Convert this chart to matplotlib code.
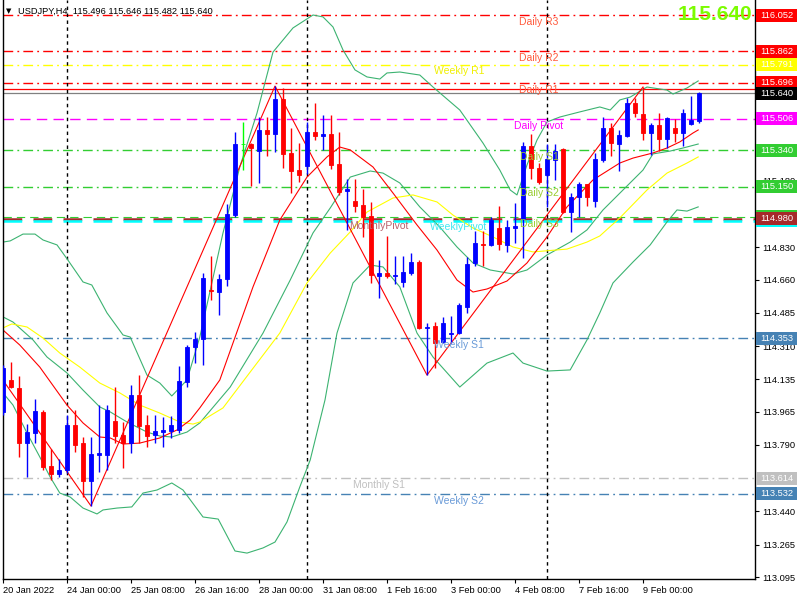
import matplotlib
matplotlib.use('Agg')
import matplotlib.pyplot as plt
import matplotlib.transforms as mtransforms
from matplotlib.patches import Rectangle

plt.rcParams['font.family'] = ['Liberation Sans', 'DejaVu Sans']

# header info
symbol = 'USDJPY,H4'
last_ohlc = [115.496, 115.646, 115.482, 115.640]
ask_price = 115.663

# H4 bars, bar 0 = 24 Jan 00:00
bars = list(range(-8, 80))
opens = [113.964, 114.132, 114.090, 113.800, 113.853, 113.964, 113.679, 113.637,
         113.658, 113.895, 113.800, 113.600, 113.737, 113.737, 113.916, 113.843,
         113.800, 114.053, 113.895, 113.843, 113.858, 113.864, 113.869, 114.121,
         114.306, 114.348, 114.606, 114.595, 114.664, 115.000, 115.374, 115.374,
         115.337, 115.448, 115.427, 115.611, 115.327, 115.237, 115.258, 115.437,
         115.416, 115.427, 115.269, 115.127, 115.074, 115.053, 114.995, 114.679,
         114.695, 114.679, 114.648, 114.695, 114.753, 114.406, 114.416, 114.332,
         114.374, 114.379, 114.516, 114.748, 114.848, 114.843, 114.932, 114.843,
         114.932, 114.979, 115.364, 115.248, 115.211, 115.290, 115.348, 115.016,
         115.095, 115.164, 115.074, 115.290, 115.458, 115.374, 115.416, 115.590,
         115.532, 115.432, 115.474, 115.400, 115.458, 115.432, 115.479, 115.496]
highs = [114.211, 114.227, 114.153, 113.900, 114.032, 113.974, 113.769, 113.716,
         113.948, 113.974, 113.832, 113.832, 114.000, 114.000, 114.095, 113.911,
         114.106, 114.158, 113.948, 113.948, 113.937, 113.943, 114.206, 114.316,
         114.385, 114.695, 114.785, 114.690, 115.058, 115.437, 115.490, 115.379,
         115.516, 115.516, 115.679, 115.669, 115.458, 115.379, 115.490, 115.590,
         115.527, 115.527, 115.437, 115.190, 115.190, 115.137, 115.069, 114.764,
         114.890, 114.785, 114.785, 114.800, 114.764, 114.432, 114.437, 114.464,
         114.469, 114.537, 114.779, 114.916, 114.916, 114.990, 115.048, 114.974,
         115.064, 115.385, 115.427, 115.274, 115.374, 115.374, 115.353, 115.116,
         115.174, 115.164, 115.327, 115.516, 115.485, 115.448, 115.616, 115.616,
         115.674, 115.485, 115.537, 115.516, 115.506, 115.558, 115.627, 115.646]
lows = [113.948, 114.090, 113.727, 113.621, 113.800, 113.658, 113.606, 113.621,
        113.642, 113.753, 113.516, 113.469, 113.648, 113.658, 113.800, 113.669,
        113.748, 113.800, 113.779, 113.800, 113.779, 113.827, 113.853, 114.095,
        114.221, 114.211, 114.553, 114.474, 114.627, 114.990, 115.237, 115.153,
        115.169, 115.311, 115.332, 115.248, 115.116, 115.174, 115.216, 115.395,
        115.343, 115.243, 115.106, 114.922, 115.016, 114.885, 114.643, 114.564,
        114.669, 114.637, 114.622, 114.685, 114.400, 114.158, 114.195, 114.327,
        114.327, 114.374, 114.485, 114.732, 114.732, 114.837, 114.816, 114.806,
        114.853, 114.774, 115.190, 115.164, 115.043, 115.185, 115.011, 114.911,
        114.990, 115.048, 115.043, 115.279, 115.311, 115.232, 115.411, 115.516,
        115.395, 115.316, 115.337, 115.353, 115.385, 115.364, 115.474, 115.482]
closes = [114.195, 114.095, 113.800, 113.858, 113.969, 113.674, 113.637, 113.658,
          113.895, 113.790, 113.600, 113.742, 113.748, 113.974, 113.837, 113.800,
          114.053, 113.890, 113.837, 113.864, 113.869, 113.895, 114.127, 114.306,
          114.348, 114.669, 114.600, 114.664, 115.006, 115.374, 115.374, 115.353,
          115.448, 115.427, 115.611, 115.322, 115.232, 115.211, 115.437, 115.416,
          115.427, 115.264, 115.122, 115.137, 115.048, 114.990, 114.685, 114.695,
          114.679, 114.685, 114.700, 114.753, 114.406, 114.411, 114.327, 114.432,
          114.379, 114.527, 114.742, 114.853, 114.843, 114.974, 114.848, 114.937,
          114.943, 115.364, 115.248, 115.174, 115.295, 115.337, 115.016, 115.095,
          115.164, 115.095, 115.295, 115.458, 115.379, 115.422, 115.590, 115.537,
          115.432, 115.474, 115.400, 115.511, 115.432, 115.537, 115.500, 115.640]

# Bollinger bands
bb_up_x = [-8, -7.1, -5.5, -4, -3, -1.25, 0.1, 2, 3.1, 5, 7, 7.9, 10, 11.6, 13.1, 15,
           16.6, 19.5, 21.6, 23.75, 25.75, 28.25, 30.75, 32, 33.25, 34.5, 36, 37.5,
           39.1, 40, 41.6, 44.1, 45.75, 49.1, 52, 54.1, 55.4, 56.25, 57.5, 58.75, 60,
           61.6, 64.1, 66.6, 67.9, 69.1, 70.4, 72.5, 75, 75.75, 77.5, 78.9]
bb_up = [114.858, 114.864, 114.900, 114.900, 114.869, 114.843, 114.764, 114.648,
         114.632, 114.485, 114.369, 114.358, 114.158, 114.116, 114.048, 114.132,
         114.358, 114.906, 115.253, 115.537, 115.858, 115.985, 116.053, 116.043,
         115.990, 115.869, 115.764, 115.727, 115.716, 115.748, 115.753, 115.737,
         115.674, 115.553, 115.379, 115.237, 115.132, 115.106, 115.264, 115.395,
         115.490, 115.516, 115.543, 115.569, 115.553, 115.606, 115.621, 115.674,
         115.658, 115.637, 115.669, 115.706]
bb_mid_x = [-8, -6.75, -4.25, -2.5, 0, 2, 4.1, 5.4, 7.5, 10, 11.6, 13.1, 15, 16.6,
            20.4, 24.5, 27.9, 30.75, 32.9, 35.4, 37.9, 39.5, 41.6, 44.1, 46.6, 48.75,
            50.75, 52.9, 55.75, 57.5, 60, 62.9, 65, 67, 69.5, 72, 73.25, 75.4, 77, 78.9]
bb_mid = [114.464, 114.437, 114.343, 114.253, 114.169, 114.079, 113.990, 113.964,
          113.911, 113.858, 113.837, 113.832, 113.858, 113.906, 114.095, 114.379,
          114.658, 114.906, 115.037, 115.200, 115.232, 115.221, 115.169, 115.043,
          114.937, 114.832, 114.748, 114.711, 114.690, 114.711, 114.790, 114.858,
          114.922, 115.027, 115.132, 115.237, 115.322, 115.337, 115.353, 115.374]
bb_low_x = [-8, -6.75, -5, -3.4, -2.1, -0.9, 0.4, 2, 3.75, 4.5, 6.25, 8.1, 9.5, 11.25,
            13.1, 14.5, 17, 18.9, 21, 22.5, 24.5, 26, 27.5, 29.1, 30.4, 32.25, 33.75,
            35.75, 37.9, 39.5, 41.6, 43.75, 45.75, 49.1, 52.5, 55.75, 57, 60, 62.9, 65,
            66.6, 68.25, 70.75, 72.9, 75, 76.25, 77.5, 78.9]
bb_low = [114.064, 114.000, 113.853, 113.727, 113.621, 113.537, 113.516, 113.458,
          113.427, 113.448, 113.458, 113.464, 113.537, 113.553, 113.590, 113.553,
          113.411, 113.400, 113.232, 113.221, 113.248, 113.279, 113.385, 113.569,
          113.711, 114.027, 114.379, 114.643, 114.737, 114.727, 114.622, 114.379,
          114.253, 114.095, 114.221, 114.274, 114.221, 114.179, 114.185, 114.343,
          114.485, 114.643, 114.753, 114.843, 114.964, 115.027, 115.021, 115.043]

# moving averages
ma_red_x = [-8, -5.9, -3.4, 0, 2, 4.1, 5.4, 7, 9.1, 11.6, 13.75, 15.4, 16.6, 19.1, 23.25,
            26.6, 30, 32.5, 34.1, 35.4, 38.25, 40.75, 43.75, 46.25, 48.75, 50.75, 52.5,
            55, 57.5, 60, 62.5, 65.75, 69.1, 70.75, 73.25, 75, 76.6, 78.25, 78.9]
ma_red = [114.395, 114.316, 114.200, 114.000, 113.906, 113.832, 113.827, 113.795,
          113.800, 113.827, 113.869, 113.921, 113.985, 114.132, 114.622, 114.974,
          115.200, 115.306, 115.358, 115.343, 115.253, 115.116, 114.948, 114.816,
          114.658, 114.595, 114.611, 114.653, 114.748, 114.885, 115.043, 115.185,
          115.274, 115.300, 115.327, 115.353, 115.385, 115.432, 115.448]
ma_yel_x = [-8, -6.9, -5, -3, -0.9, 1.6, 4.1, 6.6, 9.1, 11.6, 14.1, 15.75, 16.6, 19.5,
            22.9, 26.6, 30, 32.9, 35.4, 37.5, 40.75, 43.25, 46.25, 48.25, 50.75, 53.25,
            55.75, 58.25, 62.5, 65, 66.6, 69.1, 72.5, 75, 77.5, 78.9]
ma_yel = [114.406, 114.427, 114.411, 114.353, 114.274, 114.200, 114.116, 114.064,
          114.000, 113.958, 113.911, 113.900, 113.911, 113.985, 114.174, 114.379,
          114.643, 114.800, 114.911, 115.016, 115.090, 115.106, 115.069, 115.000,
          114.932, 114.885, 114.832, 114.806, 114.821, 114.858, 114.890, 114.985,
          115.132, 115.221, 115.274, 115.306]

# zigzag swing points
zz_x = [-9, 3, 26, 45, 72]
zz_y = [114.191, 113.469, 115.679, 114.158, 115.674]

# pivot levels
lvl_names = ['Daily R3', 'Daily R2', 'Weekly R1', 'Daily R1', 'Daily Pivot',
             'Daily S1', 'Daily S2', 'Daily S3', 'MonthlyPivot', 'WeeklyPivot',
             'Weekly S1', 'Monthly S1', 'Weekly S2']
lvl_values = [116.052, 115.862, 115.791, 115.696, 115.506, 115.340, 115.150,
              114.990, 114.980, 114.970, 114.353, 113.614, 113.532]

week_starts = [0, 30, 60]
xtick_pos = [-8, 0, 8, 16, 24, 32, 40, 48, 56, 64, 72]
xtick_labels = ['20 Jan 2022', '24 Jan 00:00', '25 Jan 08:00', '26 Jan 16:00',
                '28 Jan 00:00', '31 Jan 08:00', '1 Feb 16:00', '3 Feb 00:00',
                '4 Feb 08:00', '7 Feb 16:00', '9 Feb 00:00']
# scale labels that are not fully hidden behind the level boxes
ytick_vals = [113.095, 113.265, 113.440, 113.790, 113.965, 114.135, 114.310,
              114.485, 114.660, 114.830, 115.005, 115.180, 115.530, 115.700]

dashdot = (0, (7, 3, 1.3, 3))
dashed = (0, (7.5, 4.5))
lvl_style = {
    'Daily R3': ('#ff0000', dashdot, 1, '#ff5a3c', 59),
    'Daily R2': ('#ff0000', dashdot, 1, '#ff5a3c', 59),
    'Weekly R1': ('#ffff00', dashdot, 1, '#f0f000', 49),
    'Daily R1': ('#ff0000', dashdot, 1, '#ff5a3c', 59),
    'Daily Pivot': ('#ff00ff', dashed, 1, '#ff00ff', 59),
    'Daily S1': ('#32cd32', dashdot, 1, '#9acd32', 59),
    'Daily S2': ('#32cd32', dashdot, 1, '#9acd32', 59),
    'Daily S3': ('#32cd32', dashed, 0.8, '#9acd32', 59),
    'MonthlyPivot': ('#a52a2a', dashed, 1.8, '#b8606a', 39),
    'WeeklyPivot': ('#00ffff', dashed, 1.8, '#40e8f0', 49),
    'Weekly S1': ('#4682b4', dashdot, 1, '#6a9bd8', 49),
    'Monthly S1': ('#c0c0c0', dashdot, 1, '#c0c0c0', 39),
    'Weekly S2': ('#4682b4', dashdot, 1, '#6a9bd8', 49),
}

fig = plt.figure(figsize=(8, 6), dpi=100)
ax = fig.add_axes([2.5 / 800, 21 / 600, 752 / 800, 579 / 600])
ax.set_xlim(-8.0625, 85.9375)
ax.set_ylim(113.0846, 116.132)

# pivot lines
for name, val in zip(lvl_names, lvl_values):
    col, ls, lw, tcol, tx = lvl_style[name]
    ax.axhline(val, color=col, linestyle=ls, linewidth=lw, zorder=1)
ax.axhline(ask_price, color='#ff0000', linewidth=0.9, zorder=1)
ax.axhline(last_ohlc[3], color='#808080', linewidth=0.9, zorder=1)

for w in week_starts:
    ax.axvline(w, color='black', linestyle=(0, (2.5, 2.5)), linewidth=1, zorder=1)

# indicators
ax.plot(bb_up_x, bb_up, color='#3cb371', lw=0.8, zorder=2)
ax.plot(bb_mid_x, bb_mid, color='#3cb371', lw=0.8, zorder=2)
ax.plot(bb_low_x, bb_low, color='#3cb371', lw=0.8, zorder=2)
ax.plot(ma_yel_x, ma_yel, color='#ffff00', lw=0.8, zorder=2)
ax.plot(ma_red_x, ma_red, color='#ff0000', lw=0.8, zorder=2)
ax.plot(zz_x, zz_y, color='#ff0000', lw=0.8, zorder=2)

# candles
for i, o, h, l, c in zip(bars, opens, highs, lows, closes):
    if c > o:
        col = '#0000ff'
    elif c < o:
        col = '#ff0000'
    else:
        col = '#00ff00'
    ax.vlines(i, l, h, color=col, linewidth=1, zorder=3)
    ax.bar(i, abs(c - o), bottom=min(o, c), width=0.6, color=col,
           edgecolor=col, linewidth=0.6, zorder=4)

# level captions
for name, val in zip(lvl_names, lvl_values):
    col, ls, lw, tcol, tx = lvl_style[name]
    ax.annotate(name, xy=(tx, val), xytext=(0, -4.8), textcoords='offset points',
                ha='center', va='center', fontsize=7.5, color=tcol, zorder=6)

# axes look
for s in ['left', 'right', 'bottom']:
    ax.spines[s].set_color('black')
    ax.spines[s].set_linewidth(1)
ax.spines['top'].set_visible(False)
ax.yaxis.tick_right()
ax.set_yticks(ytick_vals)
ax.set_yticklabels(['%.3f' % v for v in ytick_vals])
ax.tick_params(axis='y', length=3, width=0.8, labelsize=6.7, pad=2.5)
ax.set_xticks(xtick_pos)
ax.set_xticklabels(xtick_labels, ha='left')
ax.tick_params(axis='x', length=3, width=0.8, labelsize=6.7, pad=2)

# price boxes on the right scale (hidden ones drawn without text)
box_vals = [116.052, 115.862, 115.791, ask_price, 115.696, last_ohlc[3], 115.506,
            115.340, 115.150, 114.990, 114.970, 114.980, 114.353, 113.614, 113.532]
box_cols = ['#ff0000', '#ff0000', '#ffff00', '#ff0000', '#ff0000', '#000000', '#ff00ff',
            '#32cd32', '#32cd32', '#32cd32', '#00ffff', '#a52a2a', '#4682b4', '#c0c0c0',
            '#4682b4']
box_text = [True, True, True, False, True, True, True,
            True, True, False, False, True, True, True, True]
trans = mtransforms.blended_transform_factory(fig.transFigure, ax.transData)
box_h = 13 / 190
for k, (v, bc, show) in enumerate(zip(box_vals, box_cols, box_text)):
    ax.add_patch(Rectangle((756 / 800, v - box_h / 2), 41 / 800, box_h, transform=trans,
                           facecolor=bc, edgecolor='none', clip_on=False, zorder=10 + 2 * k))
    if show:
        ax.text(776.5 / 800, v, '%.3f' % v, transform=trans, ha='center', va='center',
                fontsize=6.7, color='white', clip_on=False, zorder=11 + 2 * k)

# header and big price
fig.text(9 / 800, 1 - 11 / 600, '\u25bc', fontsize=5, ha='center', va='center',
         color='black', family=['DejaVu Sans'])
fig.text(18 / 800, 1 - 11 / 600, '%s  %.3f %.3f %.3f %.3f' % (symbol, *last_ohlc),
         fontsize=6.7, ha='left', va='center', color='black')
fig.text(752 / 800, 1 - 14 / 600, '%.3f' % last_ohlc[3], fontsize=15, fontweight='bold',
         ha='right', va='center', color='#7cfc00')

fig.savefig('out.png', dpi=100)
